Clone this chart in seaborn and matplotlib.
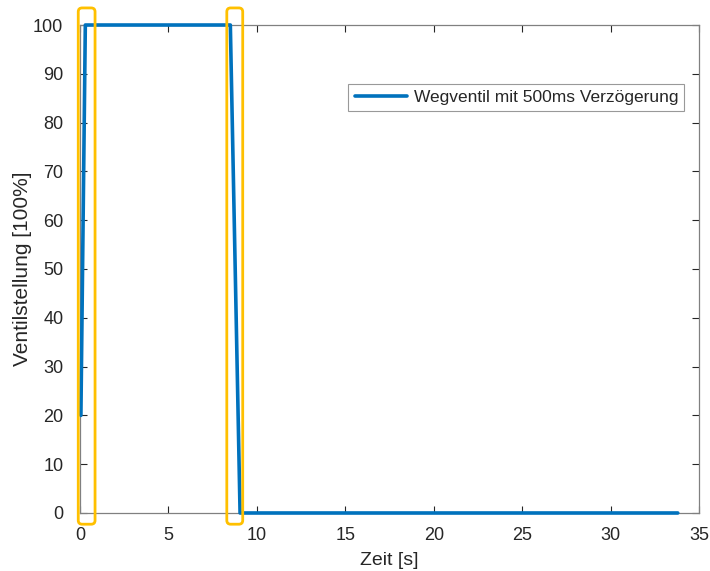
import matplotlib
matplotlib.use("Agg")
import matplotlib.pyplot as plt
import seaborn as sns
import pandas as pd
from matplotlib.patches import FancyBboxPatch

# Data
zeit = [0.05, 0.3, 8.5, 9.05, 33.8]
ventil = [20, 100, 100, 0, 0]
serie = "Wegventil mit 500ms Verzögerung"
# highlight windows (t_start, t_end)
fenster = [(-0.1, 0.85), (8.3, 9.2)]
fenster_y = (-2.3, 103.5)

x_ticks = [0, 5, 10, 15, 20, 25, 30, 35]
y_ticks = [0, 10, 20, 30, 40, 50, 60, 70, 80, 90, 100]

sns.set_theme(style="white")
plt.rcParams['font.family'] = ['Liberation Sans', 'DejaVu Sans']

df = pd.DataFrame({"Zeit": zeit, "Ventil": ventil, "Serie": serie})

fig = plt.figure(figsize=(7.10, 5.71), dpi=100)
ax = fig.add_axes([0.1127, 0.1016, 0.8718, 0.8546])

sns.lineplot(data=df, x="Zeit", y="Ventil", hue="Serie", palette=["#0072BD"],
             linewidth=2.6, ax=ax, sort=False, estimator=None)
for ln in ax.get_lines():
    ln.set_clip_on(False)
    ln.set_zorder(4)

for (a, b) in fenster:
    p = FancyBboxPatch((a, fenster_y[0]), b - a, fenster_y[1] - fenster_y[0],
                       boxstyle="round,pad=0,rounding_size=0.22",
                       mutation_aspect=3.6, fill=False, edgecolor="#FFC000",
                       linewidth=2.0, clip_on=False, zorder=5)
    ax.add_patch(p)

ax.set_xlim(0, 35)
ax.set_ylim(0, 100)
ax.set_xticks(x_ticks)
ax.set_yticks(y_ticks)
ax.tick_params(direction="in", length=5, width=0.8, colors="#262626",
               labelsize=13, top=True, right=True, bottom=True, left=True)
ax.tick_params(axis="x", pad=10)
ax.tick_params(axis="y", pad=12)
for t in ax.get_xticklines() + ax.get_yticklines():
    t.set_color("#808080")
for s in ax.spines.values():
    s.set_color("#808080")
    s.set_linewidth(0.9)

ax.set_xlabel("Zeit [s]", fontsize=14, color="#262626", labelpad=5.5)
ax.set_ylabel("Ventilstellung [100%]", fontsize=15, color="#262626", labelpad=1)

leg = ax.legend(loc="upper right", bbox_to_anchor=(0.976, 0.879), fontsize=12.5,
                frameon=True, fancybox=False, edgecolor="#808080",
                handlelength=3.0, borderpad=0.35, handletextpad=0.4,
                borderaxespad=0)
leg.get_frame().set_linewidth(0.8)
for line in leg.get_lines():
    line.set_linewidth(2.6)

fig.savefig("out.png", dpi=100)
